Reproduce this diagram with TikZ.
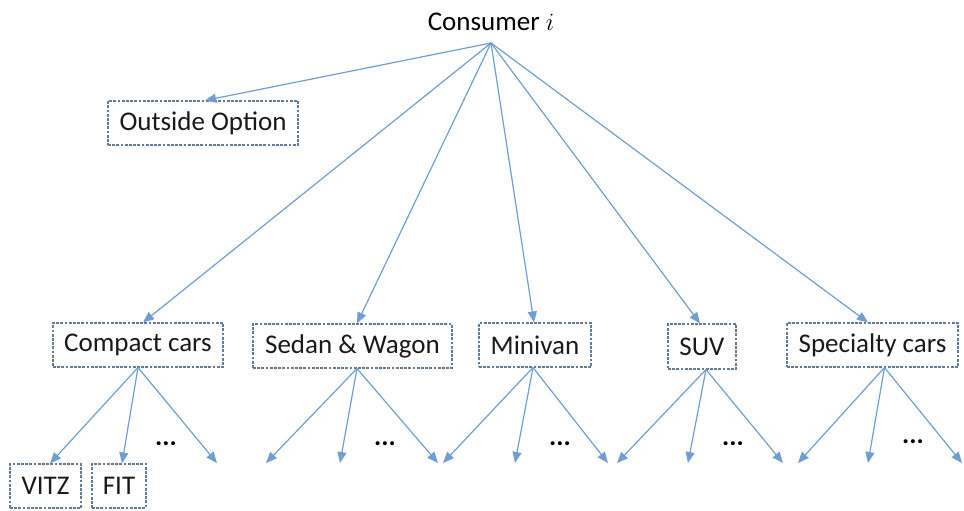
\documentclass[tikz,border=0pt]{standalone}
\usepackage{fontspec}
\setmainfont{Carlito}
\usetikzlibrary{arrows.meta}
\definecolor{linkblue}{RGB}{110,158,210}
\definecolor{boxline}{RGB}{100,122,155}
\tikzset{
  catbox/.style={draw=boxline, line width=1.1pt, dash pattern=on 2.8pt off 1.4pt,
    inner sep=0pt, font=\fontsize{27}{30}\selectfont, text=black!90},
  link/.style={draw=linkblue, line width=1.2pt, -{Triangle[length=11pt,width=9pt]}},
  dots/.style={font=\fontsize{27}{30}\selectfont\bfseries, inner sep=0pt}
}
\begin{document}
\begin{tikzpicture}[x=1pt,y=-1pt]
\useasboundingbox (0,0) rectangle (964,511);
\node[font=\fontsize{27}{30}\selectfont, inner sep=0pt] (top) at (491,22) {Consumer $i$};
\coordinate (apex) at (491,43);
\node[catbox, minimum width=190pt, minimum height=44pt] (out) at (203,123) {Outside Option};
\node[catbox, minimum width=170pt, minimum height=44pt] (cmp) at (138,345) {Compact cars};
\node[catbox, minimum width=199pt, minimum height=44pt] (sed) at (352.5,346) {Sedan \& Wagon};
\node[catbox, minimum width=112pt, minimum height=44pt] (mini) at (535,345) {Minivan};
\node[catbox, minimum width=68pt, minimum height=45pt] (suv) at (702,346.5) {SUV};
\node[catbox, minimum width=171pt, minimum height=44pt] (spc) at (872.5,345) {Specialty cars};
\node[catbox, minimum width=71pt, minimum height=44pt] (vitz) at (45.5,486) {VITZ};
\node[catbox, minimum width=54pt, minimum height=44pt] (fit) at (119,486) {FIT};

\draw[link] (apex) -- ([xshift=2pt]out.north);
\draw[link] (apex) -- ([xshift=5pt]cmp.north);
\draw[link] (apex) -- ([xshift=4.5pt]sed.north);
\draw[link] (apex) -- ([xshift=-1pt]mini.north);
\draw[link] (apex) -- ([xshift=-2pt]suv.north);
\draw[link] (apex) -- ([xshift=-4.5pt]spc.north);

% compact
\coordinate (c3) at (217,463);
\draw[link] (cmp.south) -- ([xshift=4.5pt]vitz.north);
\draw[link] (cmp.south) -- ([xshift=3pt]fit.north);
\draw[link] (cmp.south) -- (c3);
\node[dots] (d1) at (166,444) {...};
% sedan
\coordinate (s1) at (266,463);
\coordinate (s2) at (340,463);
\coordinate (s3) at (438,463);
\draw[link] ([xshift=4.5pt]sed.south) -- (s1);
\draw[link] ([xshift=4.5pt]sed.south) -- (s2);
\draw[link] ([xshift=4.5pt]sed.south) -- (s3);
\node[dots] (d2) at (385,444) {...};
% minivan
\coordinate (m1) at (443,463);
\coordinate (m2) at (515,463);
\coordinate (m3) at (608,463);
\draw[link] ([xshift=-2pt]mini.south) -- (m1);
\draw[link] ([xshift=-2pt]mini.south) -- (m2);
\draw[link] ([xshift=-2pt]mini.south) -- (m3);
\node[dots] (d3) at (560,444) {...};
% suv
\coordinate (u1) at (617,463);
\coordinate (u2) at (688,463);
\coordinate (u3) at (783,463);
\draw[link] ([xshift=4pt]suv.south) -- (u1);
\draw[link] ([xshift=4pt]suv.south) -- (u2);
\draw[link] ([xshift=4pt]suv.south) -- (u3);
\node[dots] (d4) at (733,444) {...};
% specialty
\coordinate (p1) at (798,463);
\coordinate (p2) at (868,463);
\coordinate (p3) at (962,463);
\draw[link] ([xshift=12pt]spc.south) -- (p1);
\draw[link] ([xshift=12pt]spc.south) -- (p2);
\draw[link] ([xshift=12pt]spc.south) -- (p3);
\node[dots] (d5) at (913,442) {...};
\end{tikzpicture}
\end{document}
